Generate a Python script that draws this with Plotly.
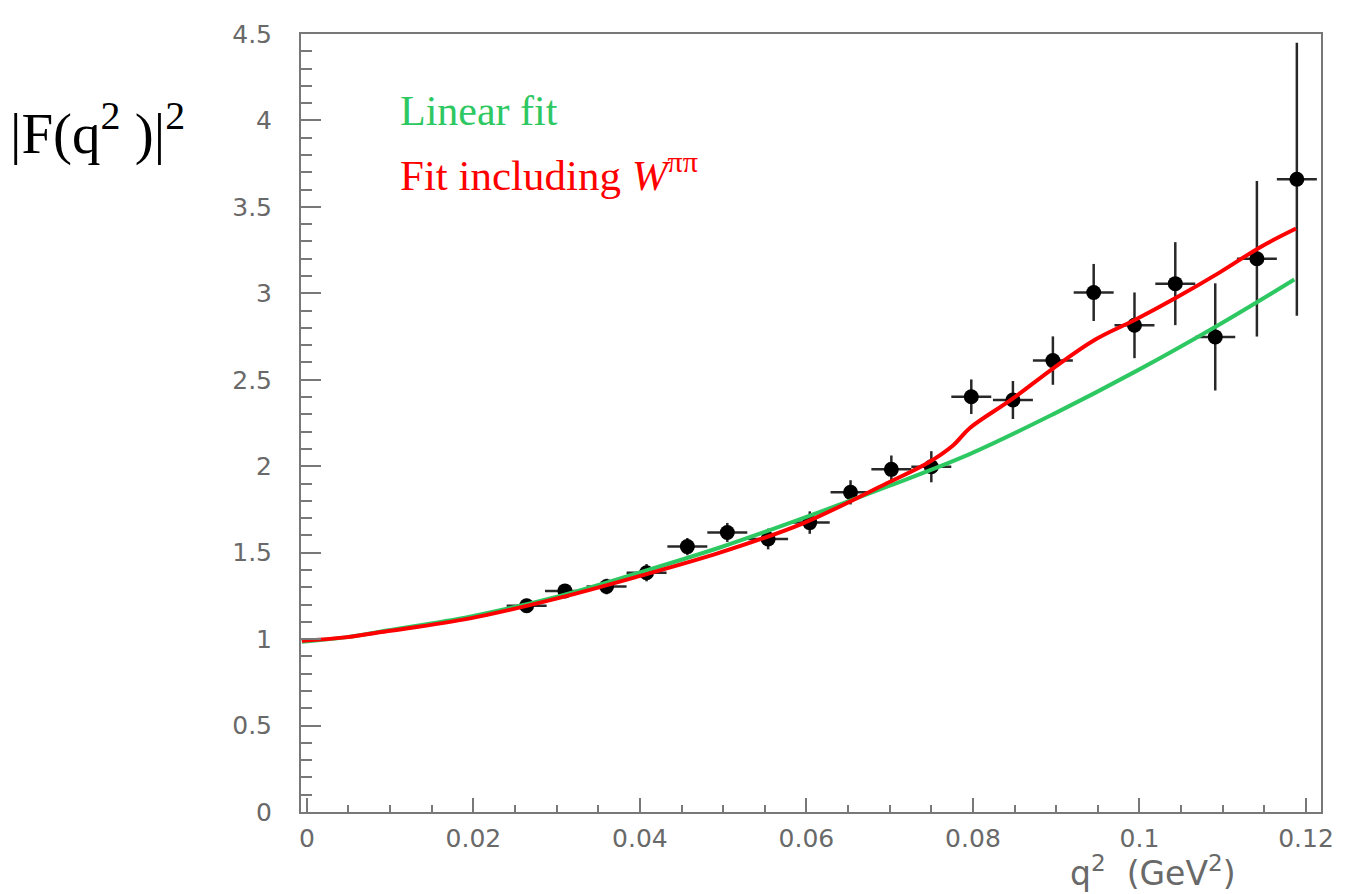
import plotly.graph_objects as go

# data points (q^2 in GeV^2, |F|^2)
q2 = [0.0264, 0.0310, 0.0360, 0.0408, 0.0457, 0.0505, 0.0554, 0.0604, 0.0653, 0.0702,
      0.0750, 0.0798, 0.0848, 0.0896, 0.0945, 0.0994, 0.1043, 0.1091, 0.1141, 0.1189]
F2 = [1.193, 1.279, 1.304, 1.384, 1.535, 1.617, 1.579, 1.674, 1.849, 1.982,
      1.997, 2.402, 2.383, 2.611, 3.005, 2.815, 3.056, 2.748, 3.200, 3.660]
F2_err = [0.04, 0.04, 0.045, 0.05, 0.05, 0.055, 0.06, 0.065, 0.07, 0.08,
          0.09, 0.10, 0.11, 0.14, 0.165, 0.19, 0.24, 0.31, 0.45, 0.79]
q2_halfbin = [0.0024] * len(q2)

# linear fit curve
lin_x = [-0.0006, 0.0046, 0.0096, 0.0196, 0.0296, 0.0396, 0.0496, 0.0596, 0.0696,
         0.0796, 0.0896, 0.0996, 0.1096, 0.1186]
lin_y = [0.985, 1.01, 1.05, 1.13, 1.24, 1.38, 1.53, 1.70, 1.88, 2.07, 2.30, 2.55, 2.82, 3.08]

# fit including W^pipi
w_x = [-0.0006, 0.0046, 0.0096, 0.0196, 0.0296, 0.0396, 0.0496, 0.0596, 0.0696, 0.0746,
       0.0776, 0.0796, 0.0846, 0.0896, 0.0946, 0.0996, 0.1046, 0.1096, 0.1146, 0.1188]
w_y = [0.99, 1.01, 1.045, 1.12, 1.23, 1.36, 1.50, 1.67, 1.90, 2.02, 2.12, 2.22,
       2.385, 2.565, 2.73, 2.85, 2.98, 3.12, 3.27, 3.375]

x_ticks = [0, 0.02, 0.04, 0.06, 0.08, 0.1, 0.12]
x_tick_text = ["0", "0.02", "0.04", "0.06", "0.08", "0.1", "0.12"]
y_ticks = [0, 0.5, 1, 1.5, 2, 2.5, 3, 3.5, 4, 4.5]
y_tick_text = ["0", "0.5", "1", "1.5", "2", "2.5", "3", "3.5", "4", "4.5"]

GREEN = "rgb(46,200,98)"
RED = "rgb(255,0,0)"
AXIS = "rgb(120,120,120)"
TICKFONT = dict(family="DejaVu Sans, Verdana, sans-serif", size=25, color="rgb(105,105,105)")

fig = go.Figure()
fig.add_trace(go.Scatter(
    x=q2, y=F2, mode="markers",
    marker=dict(color="black", size=15, symbol="circle"),
    error_y=dict(type="data", array=F2_err, color="rgb(40,40,40)", thickness=2.5, width=0),
    error_x=dict(type="data", array=q2_halfbin, color="rgb(40,40,40)", thickness=2.5, width=0),
    showlegend=False,
))
fig.add_trace(go.Scatter(x=lin_x, y=lin_y, mode="lines",
                         line=dict(color=GREEN, width=4, shape="spline"), showlegend=False))
fig.add_trace(go.Scatter(x=w_x, y=w_y, mode="lines",
                         line=dict(color=RED, width=4, shape="spline"), showlegend=False))

fig.update_layout(
    width=1348, height=894,
    margin=dict(l=293, r=35, t=15, b=90),
    plot_bgcolor="white", paper_bgcolor="white",
    xaxis=dict(
        range=[-0.0007, 0.1218], showgrid=False, zeroline=False,
        showline=True, linecolor=AXIS, linewidth=2, mirror=True,
        ticks="inside", ticklen=14, tickwidth=2, tickcolor=AXIS,
        tickvals=x_ticks, ticktext=x_tick_text, tickfont=TICKFONT,
        ticklabelstandoff=3,
        minor=dict(dtick=0.005, tick0=0, ticks="inside", ticklen=7, tickwidth=2, tickcolor=AXIS),
    ),
    yaxis=dict(
        range=[0, 4.5], showgrid=False, zeroline=False,
        showline=True, linecolor=AXIS, linewidth=2, mirror=True,
        ticks="inside", ticklen=20, tickwidth=2, tickcolor=AXIS,
        tickvals=y_ticks, ticktext=y_tick_text, tickfont=TICKFONT,
        ticklabelstandoff=22,
        minor=dict(dtick=0.1, tick0=0, ticks="inside", ticklen=11, tickwidth=2, tickcolor=AXIS),
    ),
)

SERIF = "Liberation Serif, Times New Roman, serif"
fig.add_annotation(
    xref="paper", yref="paper", x=(398 - 301) / 1020, y=(812 - 101) / 789.3,
    text="Linear fit", showarrow=False, xanchor="left", yanchor="middle",
    font=dict(family=SERIF, size=42, color=GREEN),
)
fig.add_annotation(
    xref="paper", yref="paper", x=(398 - 301) / 1020, y=(812 - 163) / 789.3,
    text="Fit including <i>W</i><sup>ππ</sup>", showarrow=False, xanchor="left", yanchor="middle",
    font=dict(family=SERIF, size=43, color=RED),
)
fig.add_annotation(
    xref="paper", yref="paper", x=(8 - 301) / 1020, y=(812 - 120) / 789.3,
    text="|F(q<sup>2</sup> )|<sup>2</sup>", showarrow=False, xanchor="left", yanchor="middle",
    font=dict(family=SERIF, size=57, color="black"),
)
fig.add_annotation(
    xref="paper", yref="paper", x=(1238 - 301) / 1020, y=-(872 - 812) / 789.3,
    text="q<sup>2</sup>  (GeV<sup>2</sup>)", showarrow=False, xanchor="right", yanchor="middle",
    font=dict(family="DejaVu Sans, Verdana, sans-serif", size=33, color="rgb(105,105,105)"),
)

fig.write_html("out.html")
